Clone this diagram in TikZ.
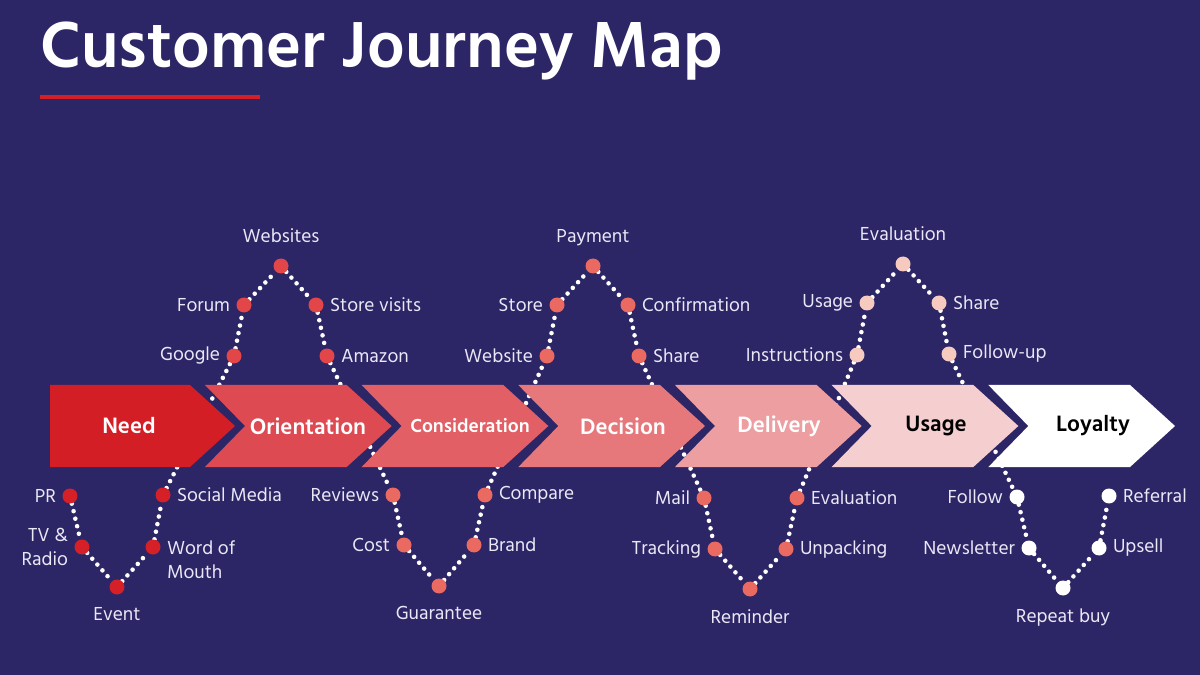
\documentclass[tikz,border=0pt]{standalone}
\usepackage{fontspec}
\setmainfont{Hind Madurai}
\usetikzlibrary{positioning, backgrounds}
\definecolor{cBg}{RGB}{45,38,102}
\definecolor{cRed}{RGB}{212,31,39}
\definecolor{cTxt}{RGB}{234,232,246}
% stage colours
\definecolor{cS1}{RGB}{211,30,38}
\definecolor{cS2}{RGB}{221,74,82}
\definecolor{cS3}{RGB}{226,96,101}
\definecolor{cS4}{RGB}{230,120,124}
\definecolor{cS5}{RGB}{236,158,161}
\definecolor{cS6}{RGB}{245,206,207}
% dot colours
\definecolor{cD1}{RGB}{214,32,40}
\definecolor{cD2}{RGB}{226,70,72}
\definecolor{cD3}{RGB}{234,105,96}
\definecolor{cD6}{RGB}{246,202,190}
\pgfdeclarelayer{back}
\pgfsetlayers{back,background,main}
\tikzset{
	stagetxt/.style={font=\bfseries\fontsize{13}{15}\selectfont, text=white, inner sep=0pt},
	pt/.style      ={circle, fill=#1, minimum size=0.3cm, inner sep=0pt},
	dotline/.style ={white, line width=2.6pt, line cap=round, dash pattern=on 0pt off 4.4pt},
	toplbl/.style  ={label={[text depth=0pt, yshift=5.5pt]above:#1}},
	botlbl/.style  ={label={[yshift=-3.8pt]below:#1}},
	every label/.style={text=cTxt, font=\fontsize{11}{13.6}\selectfont, inner sep=3.3pt},
}
\begin{document}
\begin{tikzpicture}[x=0.02cm, y=-0.02cm]
	\begin{pgfonlayer}{back}
		\fill[cBg] (0,0) rectangle (1200,675);
	\end{pgfonlayer}
	\useasboundingbox (0,0) rectangle (1200,675);
	% title
	\node[anchor=base west, font=\bfseries\fontsize{38}{42}\selectfont, text=white, inner sep=0pt] (title) at (40,68) {Customer Journey Map};
	\draw[cRed, line width=2.3pt] (40,97) -- (260,97);
	% need
	\node[pt=cD1, label=left:PR] (pr) at (70,496) {};
	\node[pt=cD1, label={[align=right]left:TV \&\\Radio}] (tv) at (82,547) {};
	\node[pt=cD1, botlbl=Event] (event) at (117,587) {};
	\node[pt=cD1, label={[align=left, yshift=-7pt]right:Word of\\Mouth}] (wom) at (153,547) {};
	\node[pt=cD1, label=right:Social Media] (social) at (163,495) {};
	% orientation
	\node[pt=cD2, label=left:Google] (google) at (234,356) {};
	\node[pt=cD2, label=left:Forum] (forum) at (244,305) {};
	\node[pt=cD2, toplbl=Websites] (websites) at (281,266) {};
	\node[pt=cD2, label=right:Store visits] (storev) at (316,305) {};
	\node[pt=cD2, label=right:Amazon] (amazon) at (327,356) {};
	% consideration
	\node[pt=cD3, label=left:Reviews] (reviews) at (393,495) {};
	\node[pt=cD3, label=left:Cost] (cost) at (404,545) {};
	\node[pt=cD3, botlbl=Guarantee] (guarantee) at (439,586) {};
	\node[pt=cD3, label=right:Brand] (brand) at (474,545) {};
	\node[pt=cD3, label=right:Compare] (compare) at (485,495) {};
	% decision
	\node[pt=cD3, label=left:Website] (website) at (547,356) {};
	\node[pt=cD3, label=left:Store] (store) at (557,305) {};
	\node[pt=cD3, toplbl=Payment] (payment) at (593,266) {};
	\node[pt=cD3, label=right:Confirmation] (confirm) at (628,305) {};
	\node[pt=cD3, label=right:Share] (shareD) at (639,356) {};
	% delivery
	\node[pt=cD3, label=left:Mail] (mail) at (704,498) {};
	\node[pt=cD3, label=left:Tracking] (tracking) at (715,549) {};
	\node[pt=cD3, botlbl=Reminder] (reminder) at (750,589) {};
	\node[pt=cD3, label=right:Unpacking] (unpack) at (786,549) {};
	\node[pt=cD3, label=right:Evaluation] (evalD) at (797,498) {};
	% usage
	\node[pt=cD6, label=left:Instructions] (instr) at (857,355) {};
	\node[pt=cD6, label=left:Usage] (usage) at (867,303) {};
	\node[pt=cD6, toplbl=Evaluation] (evalU) at (903,264) {};
	\node[pt=cD6, label=right:Share] (shareU) at (939,303) {};
	\node[pt=cD6, label=right:Follow-up] (followup) at (949,354) {};
	% loyalty
	\node[pt=white, label=left:Follow] (follow) at (1017,497) {};
	\node[pt=white, label=left:Newsletter] (newsl) at (1029,548) {};
	\node[pt=white, botlbl=Repeat buy] (repeat) at (1063,588) {};
	\node[pt=white, label=right:Upsell] (upsell) at (1099,548) {};
	\node[pt=white, label=right:Referral] (referral) at (1109,496) {};
	% the journey line
	\begin{scope}[on background layer]
		\draw[dotline] (pr) -- (tv) -- (event) -- (wom) -- (social) -- (google) -- (forum) -- (websites) -- (storev) -- (amazon)
			-- (reviews) -- (cost) -- (guarantee) -- (brand) -- (compare) -- (website) -- (store) -- (payment) -- (confirm) -- (shareD)
			-- (mail) -- (tracking) -- (reminder) -- (unpack) -- (evalD) -- (instr) -- (usage) -- (evalU) -- (shareU) -- (followup)
			-- (follow) -- (newsl) -- (repeat) -- (upsell) -- (referral);
	\end{scope}
	% stages
	\fill[cS1] (50,385) -- (190,385) -- (235,426) -- (190,467) -- (50,467) -- cycle;
	\foreach \i/\c in {1/cS2, 2/cS3, 3/cS4, 4/cS5, 5/cS6, 6/white}{
		\pgfmathsetmacro\T{235+156.67*\i}
		\fill[\c] ({\T-186.67},385) -- ({\T-45},385) -- (\T,426) -- ({\T-45},467) -- ({\T-186.67},467) -- ({\T-146.67},426) -- cycle;
	}
	\node[stagetxt] (sNeed) at (129,426) {Need};
	\node[stagetxt] (sOri) at (308,426) {Orientation};
	\node[stagetxt, font=\bfseries\fontsize{11}{13}\selectfont] (sCons) at (470,426) {Consideration};
	\node[stagetxt] (sDec) at (623,426) {Decision};
	\node[stagetxt] (sDel) at (779,426) {Delivery};
	\node[stagetxt, text=black] (sUse) at (936,426) {Usage};
	\node[stagetxt, text=black] (sLoy) at (1093,426) {Loyalty};
\end{tikzpicture}
\end{document}
